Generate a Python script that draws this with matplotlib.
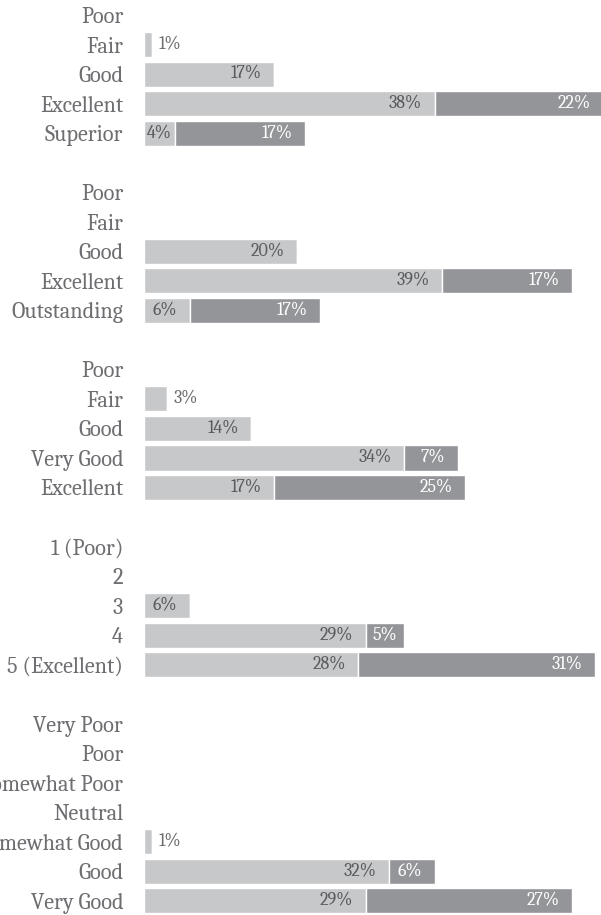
import matplotlib.pyplot as plt

# five rating questions, two stacked segments per answer
labels1 = ['Poor', 'Fair', 'Good', 'Excellent', 'Superior']
light1 = [0, 1, 17, 38, 4]
dark1 = [0, 0, 0, 22, 17]

labels2 = ['Poor', 'Fair', 'Good', 'Excellent', 'Outstanding']
light2 = [0, 0, 20, 39, 6]
dark2 = [0, 0, 0, 17, 17]

labels3 = ['Poor', 'Fair', 'Good', 'Very Good', 'Excellent']
light3 = [0, 3, 14, 34, 17]
dark3 = [0, 0, 0, 7, 25]

labels4 = ['1 (Poor)', '2', '3', '4', '5 (Excellent)']
light4 = [0, 0, 6, 29, 28]
dark4 = [0, 0, 0, 5, 31]

labels5 = ['Very Poor', 'Poor', 'Somewhat Poor', 'Neutral', 'Somewhat Good', 'Good', 'Very Good']
light5 = [0, 0, 0, 0, 1, 32, 29]
dark5 = [0, 0, 0, 0, 0, 6, 27]

groups = [(labels1, light1, dark1), (labels2, light2, dark2), (labels3, light3, dark3),
          (labels4, light4, dark4), (labels5, light5, dark5)]

LIGHT = '#c7c8ca'
DARK = '#939598'
TEXT = '#6d6e71'

plt.rcParams['font.family'] = ['Caladea', 'Liberation Serif', 'DejaVu Serif']

fig = plt.figure(figsize=(6.01, 9.15), dpi=100)
ax = fig.add_axes([144 / 601, 0, 1 - 144 / 601, 1])

ypos = []
ylabels = []
lights = []
darks = []
row = 0
for labs, lt, dk in groups:
    for lab, a, b in zip(labs, lt, dk):
        ypos.append(row)
        ylabels.append(lab)
        lights.append(a)
        darks.append(b)
        row += 1
    row += 1

ax.barh(ypos, lights, height=0.85, color=LIGHT, edgecolor='white', linewidth=1)
ax.barh(ypos, darks, left=lights, height=0.85, color=DARK, edgecolor='white', linewidth=1)


def put_label(y, start, val, color):
    end = start + val
    if val <= 3:
        ax.annotate(f'{val}%', (end, y), xytext=(5, 0), textcoords='offset points',
                    ha='left', va='center', color=TEXT, fontsize=13,
                    annotation_clip=False)
    elif val < 6:
        ax.annotate(f'{val}%', (start + val / 2, y), ha='center', va='center',
                    color=color, fontsize=13, annotation_clip=False)
    else:
        ax.annotate(f'{val}%', (end, y), xytext=(-9, 0), textcoords='offset points',
                    ha='right', va='center', color=color, fontsize=13,
                    annotation_clip=False)


for y, a, b in zip(ypos, lights, darks):
    if a > 0:
        put_label(y, 0, a, '#5a5b5d')
    if b > 0:
        put_label(y, a, b, 'white')

ax.set_xlim(0, 457 / 7.65)
ax.set_ylim((915 - 15) / 29.53, -15 / 29.53)
ax.set_yticks(ypos)
ax.set_yticklabels(ylabels, fontsize=16, color=TEXT)
ax.tick_params(axis='y', length=0, pad=15)
ax.set_xticks([])
for s in ax.spines.values():
    s.set_visible(False)

fig.savefig('out.png', dpi=100)
